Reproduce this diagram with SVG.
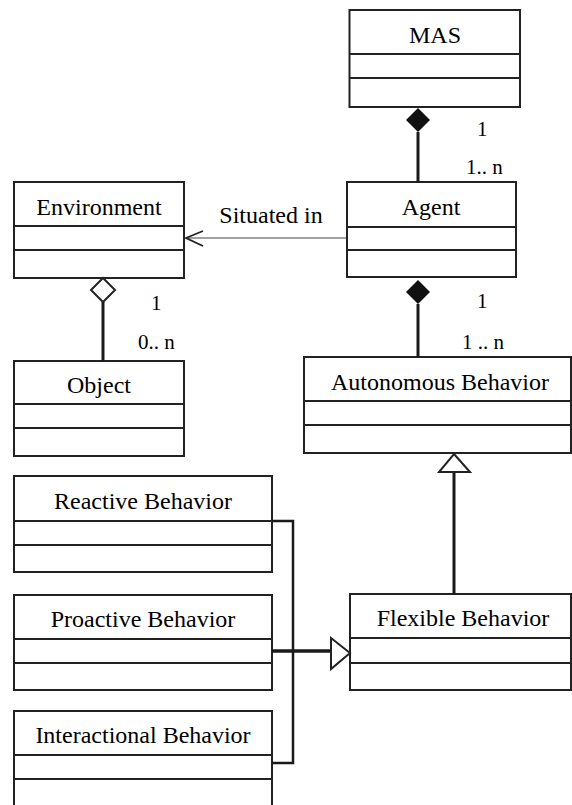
<svg xmlns="http://www.w3.org/2000/svg" width="572" height="805" viewBox="0 0 572 805">
<style>
.box{fill:#fff;stroke:#222;stroke-width:2}
.div{stroke:#222;stroke-width:2;fill:none}
.t{font-size:24px;fill:#000;text-anchor:middle}
.m{font-size:21px;fill:#000}
.c{stroke:#1a1a1a;stroke-width:3;fill:none}
</style>
<rect width="572" height="805" fill="#fff"/>
<g font-family="'Liberation Serif', 'Times New Roman', serif">
<g id="MAS">
<rect class="box" x="349.5" y="10" width="170.5" height="97"/>
<path class="div" d="M349.5 54H520M349.5 78H520"/>
<text class="t" x="435" y="43">MAS</text>
</g>
<g id="Agent">
<rect class="box" x="347" y="182" width="169" height="95"/>
<path class="div" d="M347 227H516M347 250H516"/>
<text class="t" x="431" y="215">Agent</text>
</g>
<g id="Environment">
<rect class="box" x="14" y="182" width="170" height="96"/>
<path class="div" d="M14 226H184M14 250H184"/>
<text class="t" x="99" y="215">Environment</text>
</g>
<g id="Object">
<rect class="box" x="14" y="361" width="170" height="95"/>
<path class="div" d="M14 404H184M14 428H184"/>
<text class="t" x="99" y="393">Object</text>
</g>
<g id="AutonomousBehavior">
<rect class="box" x="304" y="357" width="267" height="96"/>
<path class="div" d="M304 401H571M304 425H571"/>
<text class="t" x="440" y="390">Autonomous Behavior</text>
</g>
<g id="FlexibleBehavior">
<rect class="box" x="350" y="594" width="221" height="96"/>
<path class="div" d="M350 638H571M350 663H571"/>
<text class="t" x="463" y="626">Flexible Behavior</text>
</g>
<g id="ReactiveBehavior">
<rect class="box" x="14" y="476" width="258" height="96"/>
<path class="div" d="M14 521H272M14 545H272"/>
<text class="t" x="143" y="509">Reactive Behavior</text>
</g>
<g id="ProactiveBehavior">
<rect class="box" x="14" y="595" width="258" height="95"/>
<path class="div" d="M14 639H272M14 663H272"/>
<text class="t" x="143" y="627">Proactive Behavior</text>
</g>
<g id="InteractionalBehavior">
<rect class="box" x="14" y="711" width="258" height="110"/>
<path class="div" d="M14 755H272M14 779H272"/>
<text class="t" x="143" y="743">Interactional Behavior</text>
</g>
<g id="connectors">
<path class="c" d="M418 132V182"/>
<polygon points="418,108 430,120 418,132 406,120" fill="#111"/>
<path class="c" d="M418 304V357"/>
<polygon points="418,280 430,292 418,304 406,292" fill="#111"/>
<path d="M186 238H346" stroke="#444" stroke-width="1.2" fill="none"/>
<polyline points="203,231 186,238 203,246" stroke="#222" stroke-width="1.8" fill="none"/>
<path class="c" d="M103 302V361"/>
<polygon points="103,278 115,290 103,302 91,290" fill="#fff" stroke="#222" stroke-width="2"/>
<path class="c" d="M454 472V594"/>
<polygon points="454,454 470,472 439,472" fill="#fff" stroke="#222" stroke-width="2"/>
<polyline points="272,521 293,521 293,763 272,763" stroke="#1a1a1a" stroke-width="2.5" fill="none"/>
<path d="M272 651H330" stroke="#1a1a1a" stroke-width="3.5" fill="none"/>
<polygon points="331,638 350,653 331,669" fill="#fff" stroke="#222" stroke-width="2"/>
<text class="m" x="477" y="136">1</text>
<text class="m" x="466" y="174">1.. n</text>
<text class="m" x="151" y="310">1</text>
<text class="m" x="138" y="349">0.. n</text>
<text class="m" x="477" y="308">1</text>
<text class="m" x="462" y="349">1 .. n</text>
<text class="t" x="271" y="223">Situated in</text>
</g>
</g>
</svg>
